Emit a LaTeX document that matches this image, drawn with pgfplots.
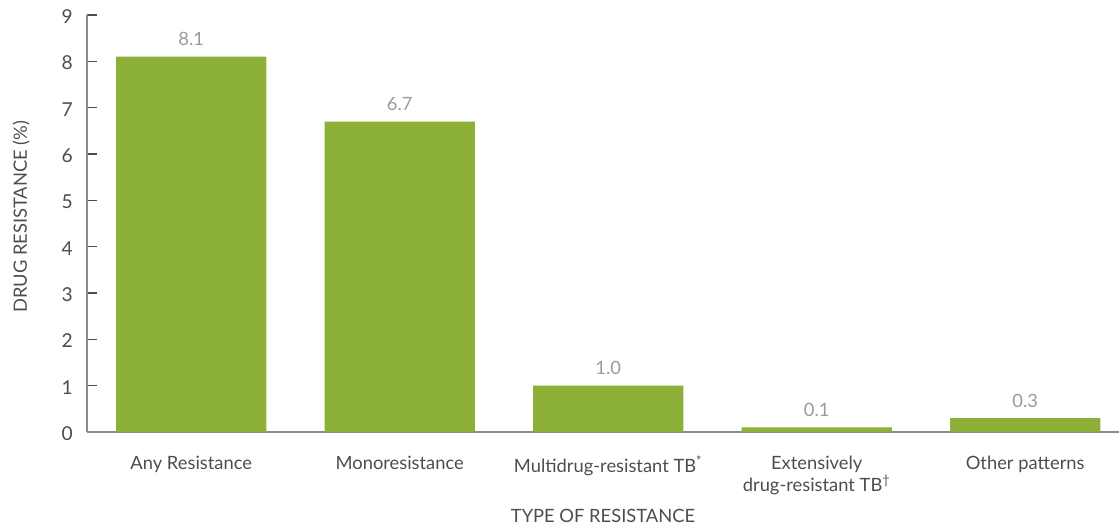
\documentclass[border=0pt]{standalone}
\usepackage{pgfplots}
\pgfplotsset{compat=1.18}
\usepackage{fontspec}
\setmainfont{Lato}
\definecolor{bargreen}{HTML}{8CB038}
\definecolor{axisgray}{HTML}{8C8C8C}
\definecolor{txtgray}{HTML}{4D4D4D}
\definecolor{valgray}{HTML}{9A9A9A}
\begin{document}
\begin{tikzpicture}
\begin{axis}[
  scale only axis,
  width=619.2pt, height=250.2pt,
  xmin=-0.5, xmax=4.45,
  ymin=0, ymax=9,
  axis lines=left,
  axis line style={axisgray, line width=1pt, -},
  ytick={0,1,...,9},
  xtick={0,1,2,3,4},
  xticklabels={Any Resistance, Monoresistance, Multidrug-resistant TB\textsuperscript{*}, {Extensively\\drug-resistant TB\textsuperscript{†}}, Other patterns},
  major x tick style={draw=none},
  extra x ticks={0.5,1.5,2.5,3.5},
  extra x tick labels={},
  extra x tick style={major tick length=6pt, tick style={draw=txtgray, line width=0.7pt}, tick align=inside},
  tick align=inside,
  major tick length=6pt,
  ytick style={draw=txtgray, line width=0.7pt},
  ticklabel style={font=\fontsize{11pt}{13pt}\selectfont, text=txtgray},
  yticklabel style={font=\fontsize{11.5pt}{13pt}\selectfont, xshift=-5pt, yshift=-1pt},
  xticklabel style={align=center, yshift=-11pt, anchor=north},
  /pgf/number format/assume math mode=true,
  xlabel={TYPE OF RESISTANCE},
  xlabel style={font=\fontsize{11pt}{13pt}\selectfont, text=txtgray, at={(axis description cs:0.5,0)}, anchor=north, yshift=-43pt},
  ylabel={DRUG RESISTANCE (\%)},
  ylabel style={font=\fontsize{11pt}{13pt}\selectfont, text=txtgray, at={(axis description cs:0,0.5)}, anchor=south, yshift=31pt, xshift=4pt},
  clip=false,
]
\addplot[ybar, bar width=0.72, fill=bargreen, draw=none,
  nodes near coords,
  nodes near coords style={font=\fontsize{11pt}{13pt}\selectfont, text=valgray, /pgf/number format/fixed, /pgf/number format/fixed zerofill, /pgf/number format/precision=1, /pgf/number format/assume math mode=true, yshift=3pt},
] coordinates {(0,8.1) (1,6.7) (2,1.0) (3,0.1) (4,0.3)};
\end{axis}
\pgfresetboundingbox
\path (-52.2pt,-57pt) rectangle (619.2pt,259.2pt);
\end{tikzpicture}
\end{document}
